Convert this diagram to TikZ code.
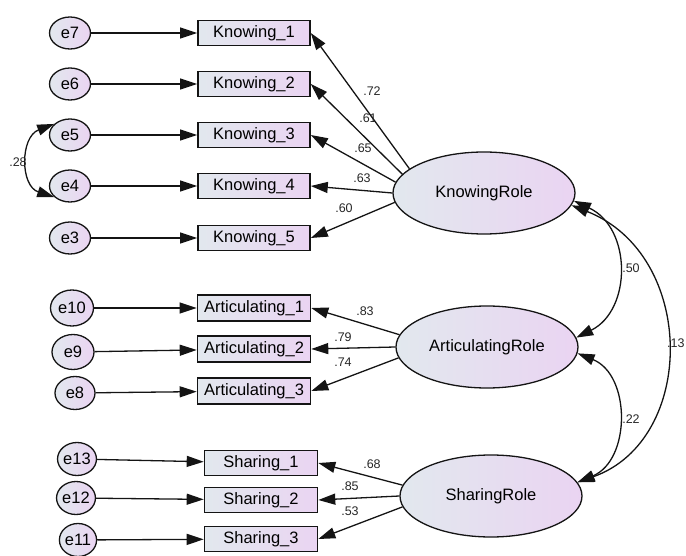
\documentclass[tikz,border=0pt]{standalone}
\usepackage{fontspec}
\setmainfont{Liberation Sans}
\usetikzlibrary{arrows.meta,shapes.geometric}
\definecolor{fillL}{RGB}{226,232,238}
\definecolor{fillR}{RGB}{234,212,242}
\definecolor{edge}{RGB}{20,20,20}
\begin{document}
\begin{tikzpicture}[x=1pt,y=-1pt,
  tip/.style={-{Triangle[length=17pt,width=11pt]}},
  twotip/.style={{Triangle[length=17pt,width=11pt]}-{Triangle[length=17pt,width=11pt]}},
  link/.style={draw=edge, line width=1.3pt},
  obs/.style={draw=edge, line width=1.6pt, rectangle, left color=fillL, right color=fillR,
    minimum width=112pt, minimum height=25pt, inner sep=0pt, font=\fontsize{16.5}{18}\selectfont},
  err/.style={draw=edge, line width=1.3pt, ellipse, left color=fillL, right color=fillR,
    minimum width=41pt, minimum height=32pt, inner sep=0pt, font=\fontsize{16.5}{18}\selectfont},
  lat/.style={draw=edge, line width=1.3pt, ellipse, left color=fillL, right color=fillR,
    minimum width=182pt, minimum height=82pt, inner sep=0pt, font=\fontsize{16.5}{18}\selectfont},
  coef/.style={font=\fontsize{12.5}{14}\selectfont, inner sep=0pt, text=black!85}
]
\useasboundingbox (0,0) rectangle (686,556);

% latent factors
\node[lat] (KR) at (484,193) {KnowingRole};
\node[lat] (AR) at (487,347) {ArticulatingRole};
\node[lat] (SR) at (491,496) {SharingRole};

% observed indicators
\node[obs] (K1) at (254,33)  {Knowing\_1};
\node[obs] (K2) at (254,84)  {Knowing\_2};
\node[obs] (K3) at (254,135) {Knowing\_3};
\node[obs] (K4) at (254,186) {Knowing\_4};
\node[obs] (K5) at (254,238) {Knowing\_5};
\node[obs,minimum width=113pt,minimum height=26pt] (A1) at (254,308) {Articulating\_1};
\node[obs,minimum width=113pt,minimum height=26pt] (A2) at (254,349) {Articulating\_2};
\node[obs,minimum width=113pt,minimum height=26pt] (A3) at (254,391) {Articulating\_3};
\node[obs,minimum width=113pt] (S1) at (261,463) {Sharing\_1};
\node[obs,minimum width=113pt] (S2) at (261,500) {Sharing\_2};
\node[obs,minimum width=113pt] (S3) at (261,539) {Sharing\_3};

% error terms
\node[err] (e7) at (70,33)  {e7};
\node[err] (e6) at (70,84)  {e6};
\node[err] (e5) at (70,135) {e5};
\node[err] (e4) at (70,186) {e4};
\node[err] (e3) at (70,238) {e3};
\node[err,minimum width=43pt,minimum height=36pt] (e10) at (72,308) {e10};
\node[err,minimum width=42pt,minimum height=35pt] (e9)  at (73,352) {e9};
\node[err,minimum width=40pt,minimum height=33pt] (e8)  at (75,393) {e8};
\node[err,minimum width=37pt,minimum height=33pt] (e13) at (77,459) {e13};
\node[err,minimum width=37pt,minimum height=33pt] (e12) at (76,498) {e12};
\node[err,minimum width=37pt,minimum height=33pt] (e11) at (78,540) {e11};

% error paths
\foreach \e/\o in {e7/K1,e6/K2,e5/K3,e4/K4,e3/K5,e10/A1,e9/A2,e8/A3,e13/S1,e12/S2,e11/S3}
  \draw[link,tip] (\e) -- (\o);

% factor loadings
\draw[link,tip] (KR.162) -- (K1.east);
\draw[link,tip] (KR.167) -- (K2.east);
\draw[link,tip] (KR.173) -- (K3.east);
\draw[link,tip] (KR.180) -- (K4.east);
\draw[link,tip] (KR.186) -- (K5.east);
\draw[link,tip] (AR.172) -- (A1.east);
\draw[link,tip] (AR.180) -- (A2.east);
\draw[link,tip] (AR.187) -- (A3.east);
\draw[link,tip] (SR.173) -- (S1.east);
\draw[link,tip] (SR.180) -- (S2.east);
\draw[link,tip] (SR.187) -- (S3.east);

% loading estimates
\node[coef] (l1) at (372,91)  {.72};
\node[coef] (l2) at (368,118) {.61};
\node[coef] (l3) at (363,148) {.65};
\node[coef] (l4) at (362,178) {.63};
\node[coef] (l5) at (344,208) {.60};
\node[coef] (l6) at (365,311) {.83};
\node[coef] (l7) at (343,337) {.79};
\node[coef] (l8) at (343,362) {.74};
\node[coef] (l9) at (372,464) {.68};
\node[coef] (l10) at (350,486) {.85};
\node[coef] (l11) at (350,511) {.53};

% covariances
\draw[link,twotip] (e5.145) .. controls (20,137) and (20,186) .. (e4.215);
\node[coef] (c1) at (18,162) {.28};
\draw[link,twotip] (KR.-5) .. controls (632,228) and (632,310) .. (AR.6);
\node[coef] (c2) at (631,268) {.50};
\draw[link,twotip] (KR.-8) .. controls (697,255) and (697,440) .. (SR.9);
\node[coef,anchor=west] (c3) at (667,343) {.13};
\draw[link,twotip] (AR.-4) .. controls (631,375) and (631,460) .. (SR.9);
\node[coef] (c4) at (631,419) {.22};
\end{tikzpicture}
\end{document}
